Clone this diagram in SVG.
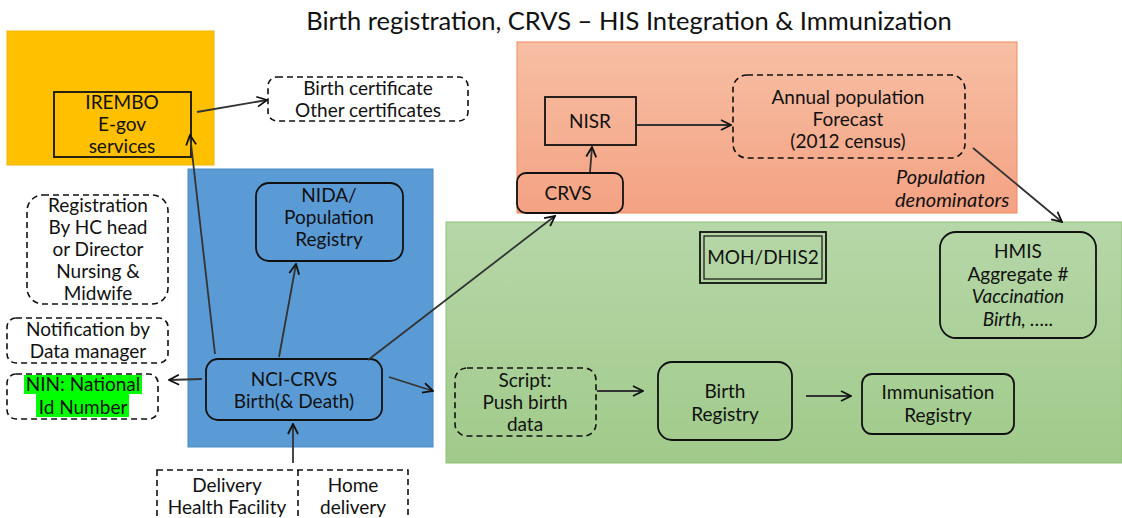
<svg xmlns="http://www.w3.org/2000/svg" width="1122" height="518" viewBox="0 0 1122 518">
<style>
text{font-family:Lato,"Open Sans","Liberation Sans",sans-serif;font-size:19px;fill:#111;text-anchor:middle}
.title{font-size:25.5px}
.it{font-style:italic}
.box{fill:none;stroke:#111;stroke-width:1.8}
.dash{fill:none;stroke:#111;stroke-width:1.6;stroke-dasharray:6 4}
.con{fill:none;stroke:#333;stroke-width:1.8;marker-end:url(#ah)}
</style>
<defs>
<marker id="ah" viewBox="0 0 12 12" refX="11" refY="6" markerWidth="12" markerHeight="12" markerUnits="userSpaceOnUse" orient="auto">
<path d="M1,1 L11,6 L1,11" fill="none" stroke="#111" stroke-width="1.8"/>
</marker>
<linearGradient id="gOr" x1="0" y1="0" x2="0" y2="1"><stop offset="0" stop-color="#F7BFA4"/><stop offset="1" stop-color="#F4A283"/></linearGradient>
<linearGradient id="gGr" x1="0" y1="0" x2="0" y2="1"><stop offset="0" stop-color="#B6D7A8"/><stop offset="1" stop-color="#A0CA8A"/></linearGradient>
</defs>

<text class="title" x="629" y="30">Birth registration, CRVS – HIS Integration &amp; Immunization</text>

<g id="zone-irembo"><rect x="7" y="31" width="207" height="134" fill="#FFC000" stroke="#F0B400"/></g>
<g id="zone-orange"><rect x="517" y="42" width="500" height="171" fill="url(#gOr)" stroke="#F08A5D"/></g>
<g id="zone-blue"><rect x="188" y="169" width="245" height="278" fill="#5B9BD5" stroke="#4A8AC4"/></g>
<g id="zone-green"><rect x="446" y="222" width="676" height="241" fill="url(#gGr)" stroke="#8FBF78"/></g>

<g id="irembo"><rect class="box" x="54" y="92" width="137" height="65"/>
<text x="122" y="109">IREMBO</text><text x="122" y="131">E-gov</text><text x="122" y="153">services</text></g>

<g id="certificates"><rect class="dash" x="268" y="77" width="200" height="44" rx="9"/>
<text x="368" y="95">Birth certificate</text><text x="368" y="117">Other certificates</text></g>

<g id="nida"><rect class="box" x="256" y="183" width="147" height="78" rx="13"/>
<text x="329" y="202">NIDA/</text><text x="329" y="224">Population</text><text x="329" y="246">Registry</text></g>

<g id="registration"><rect class="dash" x="27" y="195" width="141" height="109" rx="16"/>
<text x="98" y="212">Registration</text><text x="98" y="234">By HC head</text><text x="98" y="256">or Director</text><text x="98" y="278">Nursing &amp;</text><text x="98" y="300">Midwife</text></g>

<g id="notification"><rect class="dash" x="7" y="318" width="161" height="45" rx="9"/>
<text x="88" y="336">Notification by</text><text x="88" y="358">Data manager</text></g>

<g id="nin"><rect class="dash" x="7" y="374" width="151" height="45" rx="9"/>
<rect x="24" y="375" width="118" height="19" fill="#00FF00"/><rect x="36" y="394" width="93" height="23" fill="#00FF00"/>
<text x="83" y="391">NIN: National</text><text x="83" y="414">Id Number</text></g>

<g id="nci-crvs"><rect class="box" x="206" y="359" width="176" height="61" rx="12"/>
<text x="294" y="386">NCI-CRVS</text><text x="294" y="408">Birth(&amp; Death)</text></g>

<g id="delivery"><rect class="dash" x="157" y="470" width="251" height="52"/>
<line class="dash" x1="298" y1="470" x2="298" y2="518"/>
<text x="227" y="492">Delivery</text><text x="227" y="514">Health Facility</text>
<text x="353" y="492">Home</text><text x="353" y="514">delivery</text></g>

<g id="nisr"><rect class="box" x="545" y="97" width="91" height="48"/><text x="590" y="128">NISR</text></g>

<g id="forecast"><rect class="dash" x="733" y="75" width="232" height="83" rx="14"/>
<text x="848" y="104">Annual population</text><text x="848" y="126">Forecast</text><text x="848" y="148">(2012 census)</text></g>

<g id="crvs"><rect class="box" x="517" y="173" width="106" height="40" rx="9" fill="#F4A283"/><text x="568" y="200">CRVS</text></g>

<g id="denominators"><text class="it" x="896" y="184" style="text-anchor:start;font-size:20px">Population</text><text class="it" x="895" y="207" style="text-anchor:start;font-size:20px">denominators</text></g>

<g id="moh"><rect class="box" x="700" y="232" width="126" height="51"/><rect x="704" y="236" width="118" height="43" fill="none" stroke="#111" stroke-width="1.2"/>
<text x="763" y="264">MOH/DHIS2</text></g>

<g id="hmis"><rect class="box" x="940" y="232" width="156" height="106" rx="16"/>
<text x="1018" y="258">HMIS</text><text x="1018" y="281">Aggregate #</text><text class="it" x="1018" y="303">Vaccination</text><text class="it" x="1018" y="326">Birth, …..</text></g>

<g id="script"><rect class="dash" x="455" y="368" width="141" height="68" rx="12"/>
<text x="525" y="387">Script:</text><text x="525" y="409">Push birth</text><text x="525" y="431">data</text></g>

<g id="birth-registry"><rect class="box" x="658" y="362" width="134" height="78" rx="14"/>
<text x="725" y="398">Birth</text><text x="725" y="421">Registry</text></g>

<g id="immunisation"><rect class="box" x="862" y="374" width="152" height="60" rx="10"/>
<text x="938" y="399">Immunisation</text><text x="938" y="422">Registry</text></g>

<g id="connectors">
<line class="con" x1="197" y1="112" x2="267" y2="100"/>
<line class="con" x1="215" y1="354" x2="190" y2="135"/>
<line class="con" x1="279" y1="357" x2="296" y2="264"/>
<line class="con" x1="368" y1="360" x2="555" y2="216"/>
<line class="con" x1="202" y1="379" x2="169" y2="380"/>
<line class="con" x1="389" y1="377" x2="433" y2="391"/>
<line class="con" x1="293" y1="463" x2="293" y2="424"/>
<line class="con" x1="590" y1="172" x2="592" y2="147"/>
<line class="con" x1="637" y1="125" x2="731" y2="125"/>
<line class="con" x1="973" y1="148" x2="1062" y2="222"/>
<line class="con" x1="597" y1="391" x2="643" y2="391"/>
<line class="con" x1="806" y1="396" x2="851" y2="396"/>
</g>
</svg>
